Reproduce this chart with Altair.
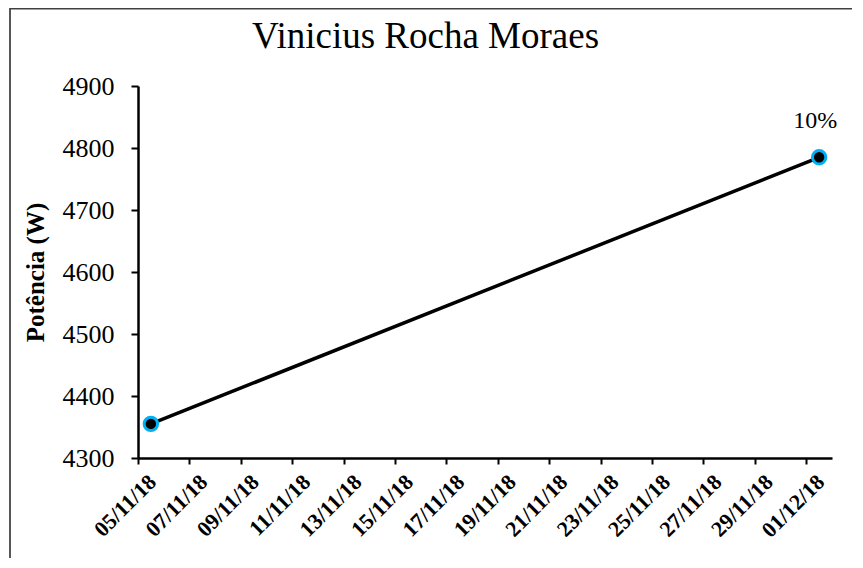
import altair as alt
import pandas as pd

# ---- data ----
datas = ["2018-11-05T12:00:00", "2018-12-01T12:00:00"]
potencia = [4355, 4785]
rotulos = ["", "10%"]

x_ticks = ["2018-11-05", "2018-11-07", "2018-11-09", "2018-11-11", "2018-11-13",
           "2018-11-15", "2018-11-17", "2018-11-19", "2018-11-21", "2018-11-23",
           "2018-11-25", "2018-11-27", "2018-11-29", "2018-12-01"]
x_domain = ["2018-11-05", "2018-12-02"]
y_ticks = [4300, 4400, 4500, 4600, 4700, 4800, 4900]

titulo = "Vinicius Rocha Moraes"
y_titulo = "Potência (W)"

df = pd.DataFrame({"data": datas, "potencia": potencia, "rotulo": rotulos})


def to_dt(s):
    t = pd.Timestamp(s)
    return alt.DateTime(year=t.year, month=t.month, date=t.day)


W, H = 694, 372
FONT = "Liberation Serif"

x_enc = alt.X(
    "data:T",
    scale=alt.Scale(domain=[to_dt(s) for s in x_domain]),
    axis=alt.Axis(
        values=[to_dt(s) for s in x_ticks],
        format="%d/%m/%y",
        labelAngle=-45,
        labelAlign="right",
        labelBaseline="middle",
        labelFont=FONT,
        labelFontWeight="bold",
        labelFontSize=22,
        labelColor="black",
        labelOffset=14,
        labelPadding=14,
        labelOverlap=False,
        labelFlush=False,
        tickSize=6,
        tickWidth=2,
        tickColor="black",
        domainColor="black",
        domainWidth=2.5,
        grid=False,
        title=None,
    ),
)
y_enc = alt.Y(
    "potencia:Q",
    scale=alt.Scale(domain=[y_ticks[0], y_ticks[-1]], nice=False, zero=False),
    axis=alt.Axis(
        values=y_ticks,
        format="d",
        labelFont=FONT,
        labelFontSize=26,
        labelColor="black",
        labelPadding=17,
        tickSize=7,
        tickWidth=2,
        tickColor="black",
        domainColor="black",
        domainWidth=2.5,
        grid=False,
        title=y_titulo,
        titleFont=FONT,
        titleFontSize=25,
        titleFontWeight="bold",
        titleColor="black",
        titlePadding=14,
    ),
)

base = alt.Chart(df)

linha = base.mark_line(color="black", strokeWidth=3.5).encode(x=x_enc, y=y_enc)
pontos = base.mark_point(filled=True, fill="black", stroke="#00B0F0",
                         strokeWidth=3, size=180, opacity=1).encode(x=x_enc, y=y_enc)
texto = base.mark_text(font=FONT, fontSize=24, color="black", baseline="alphabetic",
                       align="center", dy=-29, dx=-4).encode(x=x_enc, y=y_enc, text="rotulo:N")

borda = alt.Chart(pd.DataFrame({"b": [0]})).mark_rect(
    fill=None, stroke="#404040", strokeWidth=1.75
).encode(
    x=alt.value(-128), x2=alt.value(W + 60),
    y=alt.value(-77.5), y2=alt.value(H + 130),
)

cabecalho = alt.Chart(pd.DataFrame({"t": [titulo]})).mark_text(
    font=FONT, fontSize=37, color="black", baseline="alphabetic", align="center"
).encode(text="t:N", x=alt.value(287.5), y=alt.value(-38))

chart = alt.layer(borda, linha, pontos, texto, cabecalho).properties(
    width=W, height=H,
    autosize=alt.AutoSizeParams(type="none"),
    padding={"left": 130, "top": 78, "right": 20, "bottom": 100},
).configure_view(stroke=None)

chart.save("out.html", embed_options={"renderer": "svg", "actions": False})
